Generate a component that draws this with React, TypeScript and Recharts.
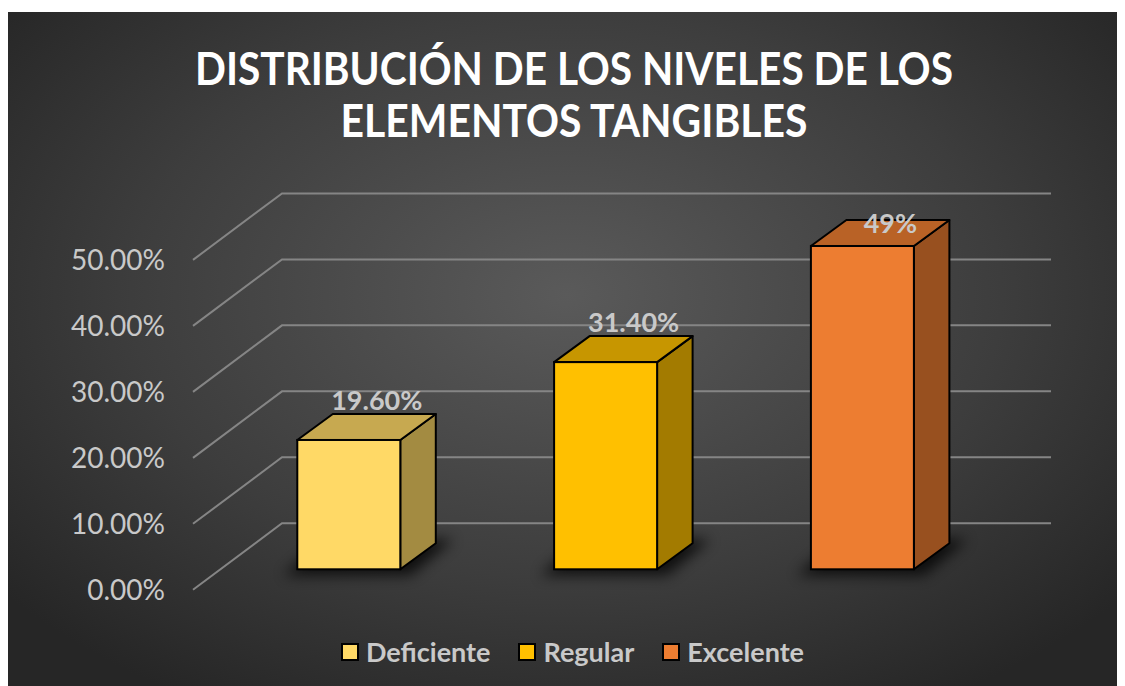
import React from 'react';
import { BarChart, Bar, XAxis, YAxis, CartesianGrid, LabelList } from 'recharts';

// chart values
const categories = ['Deficiente', 'Regular', 'Excelente'];
const values = [0.196, 0.314, 0.49];
const valueLabels = ['19.60%', '31.40%', '49%'];
const yTicks = [0, 0.1, 0.2, 0.3, 0.4, 0.5];
const titleLines = ['DISTRIBUCIÓN DE LOS NIVELES DE LOS', 'ELEMENTOS TANGIBLES'];

// face colours of each 3D box
const FRONT = ['#FFD966', '#FFC000', '#ED7D31'];
const TOP = ['#C7A950', '#C79600', '#B96226'];
const SIDE = ['#A38B41', '#A37B00', '#98501F'];

const W = 1117;
const H = 674;
const DEPTH_X = 35.5;
const DEPTH_Y = 26;
const FONT = 'Lato, "Open Sans", sans-serif';
const TEXT = '#c9c9c9';
const GRID = '#858585';

const data = categories.map((name, i) => ({ name, value: values[i], label: valueLabels[i], idx: i }));

const Box = (props: any) => {
  const { x, y, width, height, payload } = props;
  const i = payload.idx;
  const yb = y + height;
  const xr = x + width;
  const pts = (arr: number[][]) => arr.map((p) => p.join(',')).join(' ');
  return (
    <g>
      <defs>
        <filter id={`shadow-${i}`} x="-50%" y="-50%" width="200%" height="200%">
          <feGaussianBlur stdDeviation="7" />
        </filter>
      </defs>
      <polygon
        points={pts([
          [x - 14, yb + 6],
          [xr + 10, yb + 6],
          [xr + DEPTH_X + 18, yb - DEPTH_Y - 4],
          [x + DEPTH_X - 6, yb - DEPTH_Y - 4],
        ])}
        fill="#000"
        opacity={0.75}
        filter={`url(#shadow-${i})`}
      />
      <polygon
        points={pts([
          [xr, y],
          [xr + DEPTH_X, y - DEPTH_Y],
          [xr + DEPTH_X, yb - DEPTH_Y],
          [xr, yb],
        ])}
        fill={SIDE[i]}
        stroke="#000"
        strokeWidth={2}
        strokeLinejoin="round"
      />
      <polygon
        points={pts([
          [x, y],
          [x + DEPTH_X, y - DEPTH_Y],
          [xr + DEPTH_X, y - DEPTH_Y],
          [xr, y],
        ])}
        fill={TOP[i]}
        stroke="#000"
        strokeWidth={2}
        strokeLinejoin="round"
      />
      <rect x={x} y={y} width={width} height={height} fill={FRONT[i]} stroke="#000" strokeWidth={2} />
    </g>
  );
};

// side wall diagonal + back wall line for every tick
const WallLine = (props: any) => {
  const { y1, index } = props;
  return (
    <g key={`wall-${index}`}>
      <polyline
        points={`185,${y1 + 20.5} 274,${y1 - 46} 1043,${y1 - 46}`}
        fill="none"
        stroke={GRID}
        strokeWidth={2}
      />
    </g>
  );
};

const YTick = (props: any) => {
  const { y, payload } = props;
  return (
    <text x={157} y={y + 31} textAnchor="end" fill={TEXT} fontFamily={FONT} fontSize={28}>
      {(payload.value * 100).toFixed(2)}%
    </text>
  );
};

const ValueLabel = (props: any) => {
  const { x, y, width, index } = props;
  return (
    <text
      x={x + width / 2 + 28}
      y={Math.max(y - 30, 221)}
      textAnchor="middle"
      fill={TEXT}
      fontFamily={FONT}
      fontWeight={700}
      fontSize={27}
    >
      {valueLabels[index]}
    </text>
  );
};

export default function App() {
  return (
    <div
      style={{
        position: 'relative',
        width: W,
        height: H,
        marginTop: 4,
        overflow: 'hidden',
        background: 'radial-gradient(ellipse 65% 70% at 50% 42%, #5a5a5a 0%, #3d3d3d 60%, #262626 100%)',
      }}
    >
      <svg width={W} height={150} style={{ position: 'absolute', left: 0, top: 0 }}>
        <text x={566} y={73} textAnchor="middle" fill="#fff" fontFamily={FONT} fontWeight={700} fontSize={45} textLength={758} lengthAdjust="spacingAndGlyphs">
          {titleLines[0]}
        </text>
        <text x={566} y={125} textAnchor="middle" fill="#fff" fontFamily={FONT} fontWeight={700} fontSize={45} textLength={467} lengthAdjust="spacingAndGlyphs">
          {titleLines[1]}
        </text>
      </svg>
      <div style={{ position: 'absolute', left: 0, top: 0 }}>
        <BarChart width={W} height={H} data={data} margin={{ top: 227.4, right: 134.3, bottom: 116.7, left: 12.3 }}>
          <CartesianGrid vertical={false} horizontal={WallLine} />
          <XAxis dataKey="name" hide />
          <YAxis width={200} domain={[0, 0.5]} ticks={yTicks} interval={0} axisLine={false} tickLine={false} tick={YTick} />
          <Bar dataKey="value" barSize={103} shape={Box} isAnimationActive={false}>
            <LabelList dataKey="label" content={ValueLabel} />
          </Bar>
        </BarChart>
      </div>
      <div
        style={{
          position: 'absolute',
          left: 333,
          top: 623,
          display: 'flex',
          alignItems: 'center',
          fontFamily: FONT,
          fontWeight: 700,
          fontSize: 27,
          color: TEXT,
        }}
      >
        {categories.map((c, i) => (
          <div key={c} style={{ display: 'flex', alignItems: 'center', marginRight: 28 }}>
            <span
              style={{
                display: 'inline-block',
                width: 14,
                height: 14,
                border: '2px solid #000',
                background: FRONT[i],
                marginRight: 7,
              }}
            />
            <span>{c}</span>
          </div>
        ))}
      </div>
    </div>
  );
}
